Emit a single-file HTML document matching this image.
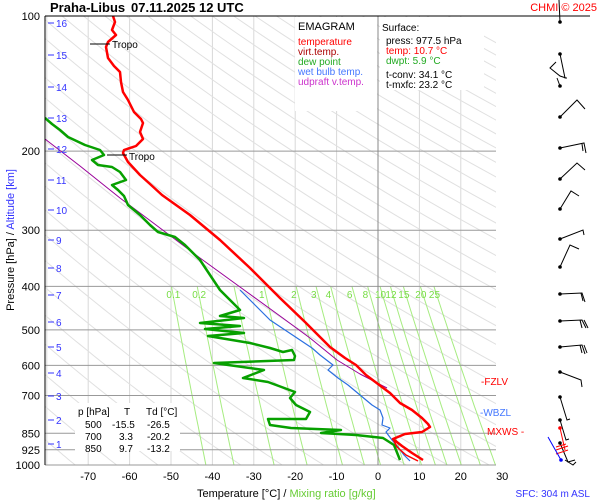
<!DOCTYPE html>
<html><head><meta charset="utf-8"><style>
body{margin:0;background:#fff;}
svg{display:block;font-family:"Liberation Sans",sans-serif;}
</style></head><body>
<svg id="s" width="600" height="500" viewBox="0 0 600 500" xmlns="http://www.w3.org/2000/svg">
<rect width="600" height="500" fill="#fff"/>
<defs><clipPath id="c"><rect x="45" y="16" width="451" height="449"/></clipPath></defs>
<g id="grid" clip-path="url(#c)"></g>
<g id="iso"></g>
<rect x="295" y="17" width="82" height="94" fill="#fff"/>
<rect x="380" y="17" width="104" height="73" fill="#fff"/>
<line x1="378" y1="16" x2="378" y2="465" stroke="#888" stroke-width="1"/>
<text x="298" y="30" font-size="11">EMAGRAM</text>
<text x="298" y="45" font-size="10" fill="#f00">temperature</text>
<text x="298" y="55" font-size="10" fill="#a00">virt.temp.</text>
<text x="298" y="65" font-size="10" fill="#2a2">dew point</text>
<text x="298" y="75" font-size="10" fill="#47f">wet bulb temp.</text>
<text x="298" y="85" font-size="10" fill="#c3c">udpraft v.temp.</text>
<text x="382" y="31" font-size="10">Surface:</text>
<text x="386" y="44" font-size="10">press: 977.5 hPa</text>
<text x="386" y="54" font-size="10" fill="#f00">temp: 10.7 °C</text>
<text x="386" y="64" font-size="10" fill="#2a2">dwpt: 5.9 °C</text>
<text x="386" y="78" font-size="10">t-conv: 34.1 °C</text>
<text x="386" y="88" font-size="10">t-mxfc: 23.2 °C</text>
<g font-size="10" fill="#7d4" id="mrl"></g>
<g clip-path="url(#c)" fill="none" stroke-linejoin="round">
<polyline stroke="#909" stroke-width="1" points="45,139 80,166 120,198 160,228 200,258 240,287 280,316 310,338 337,360 360,374 387,388"/>
<polyline stroke="#07a000" stroke-width="2.5" points="45,118 52,124 60,130 68,137 85,145 100,150 104,155 92,160 98,165 112,167 120,172 126,180 112,185 118,190 124,196 128,205 140,215 150,225 158,232 175,237 185,245 200,260 210,275 220,290 230,300 240,310 220,316 244,318 200,323 240,326 205,329 244,333 208,336 250,343 270,348 283,352 292,350 295,356 294,360 214,363 264,370 243,378 268,382 295,392 290,398 296,405 310,412 306,419 268,419 270,425 291,428 341,430 321,433 356,435 383,438 394,445 398,455 400,460"/>
<polyline stroke="#2a6fe0" stroke-width="1.2" points="240,290 255,305 270,320 285,330 300,340 312,348 320,355 333,365 328,370 338,378 348,385 360,395 372,405 380,410 383,418 382,425 390,428 386,432 392,440 398,447 404,455 410,461"/>
<polyline stroke="#f00" stroke-width="2.5" points="113,16 115,22 112,30 116,35 108,42 106,47 108,58 114,66 120,72 121,82 123,92 128,100 134,112 141,119 143,123 140,132 143,139 136,146 124,150 123,153 128,162 140,175 150,184 162,195 190,215 220,240 250,268 280,298 305,322 330,347 345,358 356,365 366,375 378,384 390,393 400,403 412,410 422,418 428,424 430,427 422,432 405,434 393,439 402,446 412,453 423,460"/>
<polyline stroke="#f00" stroke-width="1.5" points="393,439 397,447 406,455 418,461"/>
</g>
<line x1="90" y1="44" x2="110" y2="44" stroke="#000"/><text x="112" y="48" font-size="10">Tropo</text>
<line x1="107" y1="155" x2="127" y2="155" stroke="#000"/><text x="129" y="160" font-size="10">Tropo</text>
<line x1="45" y1="16" x2="590" y2="16" stroke="#000"/>
<line x1="45" y1="16" x2="45" y2="465" stroke="#000"/>
<g font-size="11" text-anchor="end" id="plab"></g>
<g font-size="10" fill="#33f" id="klab"></g>
<g font-size="11" text-anchor="middle" id="tlab"></g>
<text x="50" y="12" font-size="13" font-weight="bold">Praha-Libus</text>
<text x="131" y="12" font-size="13" font-weight="bold">07.11.2025 12 UTC</text>
<text x="597" y="11" font-size="11" fill="#f00" text-anchor="end">CHMI © 2025</text>
<text transform="translate(14,240) rotate(-90)" font-size="11" text-anchor="middle">Pressure [hPa]  /  <tspan fill="#33f">Altitude [km]</tspan></text>
<text x="197" y="497" font-size="11">Temperature [°C]  /  <tspan fill="#6c3">Mixing ratio [g/kg]</tspan></text>
<text x="590" y="497" font-size="10" fill="#33f" text-anchor="end">SFC: 304 m ASL</text>
<rect x="75" y="403" width="105" height="48" fill="#fff"/>
<g font-size="10">
<text x="78" y="415">p [hPa]</text><text x="124" y="415">T</text><text x="146" y="415">Td [°C]</text>
<text x="85" y="428">500</text><text x="112" y="428">-15.5</text><text x="147" y="428">-26.5</text>
<text x="85" y="440">700</text><text x="119" y="440">3.3</text><text x="147" y="440">-20.2</text>
<text x="85" y="452">850</text><text x="119" y="452">9.7</text><text x="147" y="452">-13.2</text>
</g>
<rect x="486" y="375" width="28" height="12" fill="#fff"/>
<text x="481" y="385" font-size="10" fill="#f00">-FZLV</text>
<text x="480" y="416" font-size="10" fill="#47f">-WBZL</text>
<text x="487" y="435" font-size="10" fill="#f00">MXWS -</text>
<g stroke="#000" fill="none" stroke-width="1">
<polyline points="560,22 559,0"/>
<polyline points="560,54 565,78 567,78"/><polyline points="556,62 550,68 560,76 566,78"/><polyline points="560,86 557,78"/>
<polyline points="560,117 577,100 585,109"/>
<polyline points="560,148 584,143 586,153"/><line x1="582" y1="144" x2="583" y2="151"/>
<polyline points="560,179 577,163 585,170"/>
<polyline points="560,209 571,191 579,196"/>
<polyline points="560,239 583,230 584,235"/>
<polyline points="560,267 570,245 579,249"/>
<polyline points="560,294 582,293 585,302"/><line x1="581" y1="293" x2="583" y2="301"/>
<polyline points="560,321 582,320 586,328"/><line x1="580" y1="320" x2="582" y2="328"/><line x1="584" y1="320" x2="588" y2="328"/>
<polyline points="560,347 582,345 585,354"/><line x1="580" y1="345" x2="582" y2="353"/><line x1="584" y1="345" x2="587" y2="353"/>
<polyline points="560,372 581,380 582,387"/>
<polyline points="560,397 567,420 570,419"/>
<polyline points="560,420 566,440 569,439"/>
<polyline points="560,443 568,462 575,460"/>
<polyline points="565,460 573,465 576,462"/>
</g>
<polyline points="560,428 565,450" stroke="#f00" fill="none"/>
<path d="M556,450 L568,446 M556,454 L568,450 M556,447 L566,444" stroke="#f00" fill="none"/>
<line x1="548" y1="437" x2="561" y2="460" stroke="#00f"/>
<g fill="#000"><circle cx="560" cy="22" r="1.8"/><circle cx="560" cy="54" r="1.8"/><circle cx="560" cy="86" r="1.8"/><circle cx="560" cy="117" r="1.8"/><circle cx="560" cy="148" r="1.8"/><circle cx="560" cy="179" r="1.8"/><circle cx="560" cy="209" r="1.8"/><circle cx="560" cy="239" r="1.8"/><circle cx="560" cy="267" r="1.8"/><circle cx="560" cy="294" r="1.8"/><circle cx="560" cy="321" r="1.8"/><circle cx="560" cy="347" r="1.8"/><circle cx="560" cy="372" r="1.8"/><circle cx="560" cy="397" r="1.8"/><circle cx="560" cy="420" r="1.8"/><circle cx="560" cy="443" r="1.8"/></g>
<circle cx="560" cy="428" r="1.8" fill="#f00"/><circle cx="561" cy="460" r="1.8" fill="#00f"/>
<script>
(function(){
var NS="http://www.w3.org/2000/svg";
function X(T){return 378+4.14*T;}
function Y(p){return 16+449*Math.log10(p/100);}
function el(par,tag,a,txt){var e=document.createElementNS(NS,tag);for(var k in a)e.setAttribute(k,a[k]);if(txt!=null)e.textContent=txt;document.getElementById(par).appendChild(e);return e;}
for(var T=-80;T<=30;T+=10){if(T==0)continue;el("grid","line",{x1:X(T),y1:16,x2:X(T),y2:465,stroke:"#d8d8d8","stroke-width":1});}
for(var th=200;th<=560;th+=10){var pts=[];for(var p=100;p<=1000;p+=10){pts.push(X(th*Math.pow(p/1000,0.2857)-273.15).toFixed(1)+","+Y(p).toFixed(1));}
el("grid","polyline",{points:pts.join(" "),fill:"none",stroke:"#e0e0e0","stroke-width":1});}
var ws=[0.1,0.2,0.5,1,2,3,4,6,8,10,12,15,20,25];
var lab=["0.1","0.2","","1","2","3","4","6","8","10","12","15","20","25"];
function td(w,p){var e=w*p/(622+w);var l=Math.log(e/6.112);return 243.5*l/(17.67-l);}
ws.forEach(function(w,i){var pts=[];for(var p=400;p<=1000;p+=20){pts.push(X(td(w,p)).toFixed(1)+","+Y(p).toFixed(1));}
el("grid","polyline",{points:pts.join(" "),fill:"none",stroke:"#a6ec80","stroke-width":1});
if(lab[i])el("mrl","text",{x:(X(td(w,400))-5).toFixed(1),y:298},lab[i]);});
[100,200,300,400,500,600,700,850,925,1000].forEach(function(p){
if(p>100)el("iso","line",{x1:45,y1:Y(p),x2:496,y2:Y(p),stroke:"#999","stroke-width":1});
el("plab","text",{x:40,y:Y(p)+4},String(p));});
var km=[[16,23],[15,55],[14,87],[13,118],[12,149],[11,180],[10,210],[9,240],[8,268],[7,295],[6,322],[5,347],[4,373],[3,396],[2,420],[1,444]];
km.forEach(function(k){el("klab","line",{x1:48,y1:k[1],x2:54,y2:k[1],stroke:"#33f"});el("klab","text",{x:56,y:k[1]+4},String(k[0]));});
for(var T=-70;T<=30;T+=10)el("tlab","text",{x:X(T),y:480},String(T));
})();
</script>
</svg>
</body></html>
